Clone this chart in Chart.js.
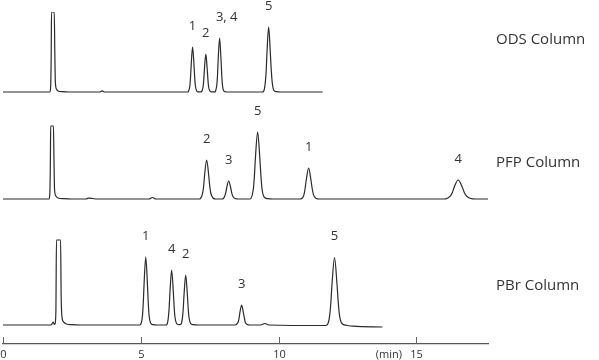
<!DOCTYPE html>
<html>
<head>
<meta charset="utf-8">
<script src="https://cdn.jsdelivr.net/npm/chart.js@4.4.0/dist/chart.umd.min.js"></script>
<style>
  html, body { margin: 0; padding: 0; background: #fff; }
  #wrap { width: 599px; height: 360px; }
</style>
</head>
<body>
<div id="wrap"><canvas id="chrom"></canvas></div>
<script>
// retention time (min) / detector signal
var odsTrace = [
  [0, 0], [1.6, 0], [1.70, 0], [1.73, 6], [1.75, 40], [1.76, 80], [1.86, 80], [1.88, 40], [1.90, 10],
  [1.94, 3], [2.0, 1], [2.15, 0.3], [2.4, 0],
  [3.5, 0], [3.6, 1.2], [3.7, 0],
  [6.70, 0], [6.73, 0.6], [6.78, 6], [6.805, 14.5], [6.83, 27.5], [6.88, 45], [6.93, 27.5], [6.955, 15],
  [6.98, 6.5], [7.03, 1], [7.08, 0.2],
  [7.20, 0.1], [7.21, 0.5], [7.26, 5], [7.285, 12], [7.31, 23], [7.36, 38], [7.41, 23], [7.435, 13],
  [7.46, 5.5], [7.51, 1], [7.56, 0.2],
  [7.70, 0.1], [7.71, 0.7], [7.76, 7.3], [7.785, 17], [7.81, 33], [7.86, 54], [7.91, 33], [7.935, 18.5],
  [7.96, 8], [8.01, 1.2], [8.08, 0.2], [8.2, 0],
  [9.40, 0], [9.46, 0.9], [9.515, 8.8], [9.55, 20.8], [9.58, 39.7], [9.64, 65], [9.70, 39.7], [9.735, 22],
  [9.77, 9.5], [9.83, 1.5], [9.92, 0.3], [10.05, 0],
  [11.6, 0]
];
var pfpTrace = [
  [0, 0], [1.6, 0], [1.67, 0], [1.70, 6], [1.72, 40], [1.73, 73], [1.83, 73], [1.85, 40], [1.87, 10],
  [1.92, 3], [2.0, 1], [2.2, 0.3], [2.5, 0],
  [3.0, 0], [3.1, 0.8], [3.25, 0.5], [3.4, 0],
  [5.3, 0], [5.42, 1.5], [5.55, 0],
  [7.12, 0], [7.17, 0.6], [7.24, 5.3], [7.28, 12.5], [7.315, 23.8], [7.39, 39], [7.465, 23.8], [7.50, 13.5],
  [7.54, 6], [7.62, 1], [7.72, 0],
  [7.95, 0], [7.99, 0.3], [8.04, 2.4], [8.08, 5.8], [8.115, 11], [8.19, 18], [8.265, 11], [8.30, 6.2],
  [8.34, 2.8], [8.42, 0.5], [8.55, 0],
  [8.95, 0], [9.0, 0.8], [9.08, 9], [9.12, 21.5], [9.16, 41], [9.24, 67], [9.32, 41], [9.36, 23],
  [9.40, 10], [9.48, 1.8], [9.6, 0.3], [9.8, 0],
  [10.78, 0], [10.84, 0.4], [10.92, 4.2], [10.96, 10], [11.005, 19], [11.09, 31], [11.175, 19], [11.22, 10.5],
  [11.26, 4.8], [11.35, 0.8], [11.5, 0],
  [15.95, 0], [16.07, 0.2], [16.22, 2.6], [16.30, 6], [16.37, 11.6], [16.52, 19], [16.67, 11.6], [16.74, 6.5],
  [16.82, 3], [16.97, 0.5], [17.15, 0], [17.6, 0]
];
var pbrTrace = [
  [0, 0], [1.7, 0], [1.76, 0.3], [1.80, 2.5], [1.83, 3], [1.86, 0.5], [1.89, 1], [1.92, 15], [1.94, 85],
  [2.09, 85], [2.11, 30], [2.14, 8], [2.2, 3], [2.3, 1], [2.5, 0.3], [2.8, 0],
  [4.95, 0], [5.0, 0.8], [5.06, 9.2], [5.09, 22], [5.12, 41.5], [5.18, 68], [5.24, 41.5], [5.27, 23],
  [5.30, 10], [5.36, 1.8], [5.45, 0.3], [5.6, 0],
  [5.9, 0], [5.95, 0.7], [6.0, 7.4], [6.03, 17.6], [6.06, 33.5], [6.12, 55], [6.18, 33.5], [6.21, 18.5],
  [6.24, 8], [6.30, 1.5], [6.36, 0.5],
  [6.42, 0.3], [6.46, 0.8], [6.51, 6.8], [6.54, 16], [6.57, 30.5], [6.63, 50], [6.69, 30.5], [6.72, 17],
  [6.75, 7.5], [6.81, 1.5], [6.9, 0.3], [7.1, 0],
  [8.4, 0], [8.45, 0.3], [8.53, 2.7], [8.565, 6.5], [8.595, 12.2], [8.66, 20], [8.725, 12.2], [8.76, 6.8],
  [8.79, 3], [8.86, 0.6], [8.95, 0],
  [9.35, 0], [9.5, 1.5], [9.65, 0],
  [11.7, -0.5], [11.77, 0.3], [11.85, 8.7], [11.895, 21.5], [11.94, 41], [12.03, 67.5], [12.12, 41], [12.165, 23],
  [12.21, 10], [12.3, 1.5], [12.45, -0.2], [12.7, -1.2], [13.77, -2]
];

// peak labels
var odsPeakNames = ['1', '2', '3, 4', '5'];
var odsPeakTimes = [6.88, 7.36, 7.86, 9.64];
var odsPeakHeights = [45, 38, 54, 65];
var pfpPeakNames = ['2', '3', '5', '1', '4'];
var pfpPeakTimes = [7.39, 8.19, 9.24, 11.09, 16.52];
var pfpPeakHeights = [39, 18, 67, 31, 19];
var pbrPeakNames = ['1', '4', '2', '3', '5'];
var pbrPeakTimes = [5.18, 6.12, 6.63, 8.66, 12.03];
var pbrPeakHeights = [68, 55, 50, 20, 67.5];

var columnNames = ['ODS Column', 'PFP Column', 'PBr Column'];
var xTicks = [0, 5, 10, 15];
var xUnit = '(min)';

var FONT = '"Open Sans", "Noto Sans", sans-serif';

var traces = [
  { axis: 'yOds', data: odsTrace, names: odsPeakNames, times: odsPeakTimes, heights: odsPeakHeights, title: columnNames[0], titleAt: 52 },
  { axis: 'yPfp', data: pfpTrace, names: pfpPeakNames, times: pfpPeakTimes, heights: pfpPeakHeights, title: columnNames[1], titleAt: 36 },
  { axis: 'yPbr', data: pbrTrace, names: pbrPeakNames, times: pbrPeakTimes, heights: pbrPeakHeights, title: columnNames[2], titleAt: 39 }
];

var overlay = {
  id: 'overlay',
  afterDraw: function(chart) {
    var ctx = chart.ctx, xs = chart.scales.x, area = chart.chartArea;
    ctx.save();
    // tick marks stand up from the axis line, labels below it
    ctx.strokeStyle = '#666';
    ctx.lineWidth = 1;
    ctx.fillStyle = '#333';
    ctx.textBaseline = 'middle';
    ctx.textAlign = 'center';
    ctx.font = '11px ' + FONT;
    xTicks.forEach(function(v) {
      var px = Math.round(xs.getPixelForValue(v)) + 0.5;
      ctx.beginPath();
      ctx.moveTo(px, area.bottom);
      ctx.lineTo(px, area.bottom - 7);
      ctx.stroke();
      ctx.fillText(String(v), px, area.bottom + 11);
    });
    ctx.fillText(xUnit, xs.getPixelForValue(14.0), area.bottom + 11);

    traces.forEach(function(tr) {
      var ys = chart.scales[tr.axis];
      ctx.textAlign = 'left';
      ctx.font = '13px ' + FONT;
      tr.times.forEach(function(t, i) {
        var name = tr.names[i];
        var w0 = ctx.measureText(name[0]).width;
        ctx.fillText(name, xs.getPixelForValue(t) - w0 / 2, ys.getPixelForValue(tr.heights[i]) - 21);
      });
      ctx.font = '15px ' + FONT;
      ctx.fillText(tr.title, area.right + 8, ys.getPixelForValue(tr.titleAt));
    });
    ctx.restore();
  }
};

window.onload = function() {
  var ctx = document.getElementById('chrom').getContext('2d');
  var hidden = function(min, max) {
    return { type: 'linear', display: false, min: min, max: max };
  };
  var chart = new Chart(ctx, {
    type: 'line',
    data: {
      datasets: traces.map(function(tr) {
        return {
          label: tr.title,
          data: tr.data.map(function(p) { return { x: p[0], y: p[1] }; }),
          yAxisID: tr.axis,
          borderColor: '#2a2a2a',
          borderWidth: 1.2,
          pointRadius: 0,
          fill: false,
          cubicInterpolationMode: 'monotone'
        };
      })
    },
    options: {
      responsive: true,
      maintainAspectRatio: false,
      animation: false,
      layout: { padding: { left: 3, right: 111, top: 12, bottom: 16 } },
      plugins: { legend: { display: false }, tooltip: { enabled: false } },
      scales: {
        x: {
          type: 'linear',
          min: 0,
          max: 17.6,
          grid: { display: false, drawTicks: false },
          border: { display: true, color: '#555', width: 1.3 },
          ticks: { display: false }
        },
        yOds: hidden(-252, 80),
        yPfp: hidden(-145, 187),
        yPbr: hidden(-19, 313)
      }
    },
    plugins: [overlay]
  });
};
</script>
</body>
</html>
